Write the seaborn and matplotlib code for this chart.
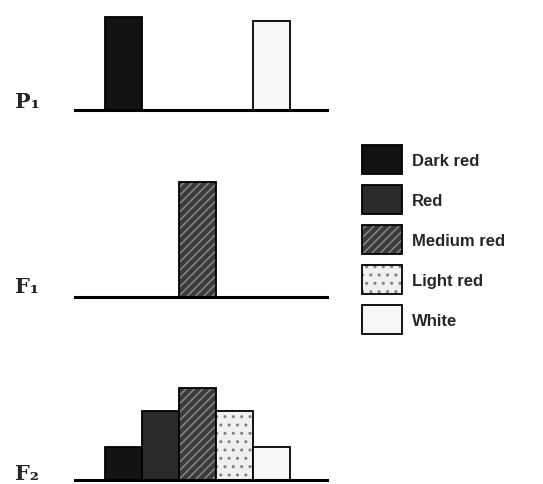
import pandas as pd
import seaborn as sns
import matplotlib.pyplot as plt
import matplotlib.patches as mpatches
from matplotlib.colors import to_rgba

# kernel colour classes, left to right
colours = ['Dark red', 'Red', 'Medium red', 'Light red', 'White']

# bar heights (arbitrary units, F2 peak = 100)
p1_heights = [101, 0, 0, 0, 97]
f1_heights = [0, 0, 125, 0, 0]
f2_heights = [36, 75, 100, 75, 36]
gen_labels = ['P₁', 'F₁', 'F₂']

fills = {'Dark red': '#131313', 'Red': '#2a2a2a', 'Medium red': '#3b3b3b',
         'Light red': '#f0f0f0', 'White': '#f7f7f7'}
hatches = {'Medium red': '////', 'Light red': '..'}
hatch_grey = {'Medium red': '#8c8c8c', 'Light red': '#808080'}

sns.set_style('white')
plt.rcParams['font.family'] = ['Liberation Sans', 'DejaVu Sans']
plt.rcParams['hatch.linewidth'] = 1.0

fig = plt.figure(figsize=(5.43, 4.85), dpi=100)
W, H = 543, 485
px_per_unit = 0.92


def add_panel(baseline_px, ymax):
    h = ymax * px_per_unit
    return fig.add_axes([75 / W, (H - baseline_px) / H, 252 / W, h / H])


def draw_gen(ax, heights, ymax):
    df = pd.DataFrame({'colour': colours, 'freq': heights})
    df = df[df['freq'] > 0]
    sns.barplot(data=df, x='colour', y='freq', hue='colour', order=colours,
                hue_order=colours, palette=fills, saturation=1, width=1.0,
                edgecolor='black', linewidth=1.3, legend=False, ax=ax)
    for p in ax.patches:
        idx = int(round(p.get_x() + p.get_width() / 2))
        name = colours[idx]
        if name in hatches:
            p.set_hatch(hatches[name])
            p._hatch_color = to_rgba(hatch_grey[name])
    ax.set_xlim(-1.31, 5.5)
    ax.set_ylim(0, ymax)
    ax.set_xticks([])
    ax.set_yticks([])
    ax.set_xlabel('')
    ax.set_ylabel('')
    sns.despine(ax=ax, left=True)
    ax.spines['bottom'].set_linewidth(2.2)
    ax.spines['bottom'].set_color('black')
    ax.patch.set_alpha(0)


ax1 = add_panel(111, 110)
draw_gen(ax1, p1_heights, 110)
ax2 = add_panel(298, 130)
draw_gen(ax2, f1_heights, 130)
ax3 = add_panel(481, 110)
draw_gen(ax3, f2_heights, 110)

# generation labels
for label, ypx in zip(gen_labels, [102, 287, 474]):
    fig.text(15 / W, (H - ypx) / H, label, ha='left', va='center',
             fontsize=15, fontweight='bold', family=['DejaVu Serif', 'DejaVu Sans'])

# legend
handles = []
for c in colours:
    patch = mpatches.Patch(facecolor=fills[c], edgecolor='black', linewidth=1.3,
                           hatch=hatches.get(c), label=c)
    if c in hatches:
        patch._hatch_color = to_rgba(hatch_grey[c])
    handles.append(patch)

fig.legend(handles=handles, loc='upper left',
           bbox_to_anchor=(362 / W, (H - 146) / H), frameon=False,
           prop={'weight': 'bold', 'size': 12},
           handlelength=2.4, handleheight=2.3, handletextpad=0.6,
           labelspacing=0.66, borderpad=0, borderaxespad=0)

fig.savefig('out.png', dpi=100)
